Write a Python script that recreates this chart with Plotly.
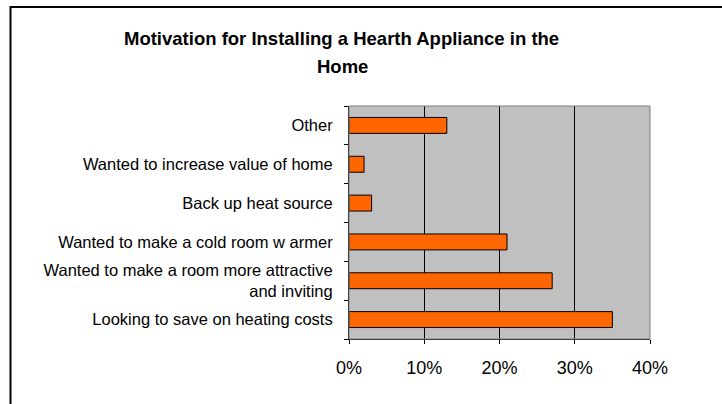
import plotly.graph_objects as go

categories = [
    "Looking to save on heating costs",
    "Wanted to make a room more attractive<br>and inviting",
    "Wanted to make a cold room w armer",
    "Back up heat source",
    "Wanted to increase value of home",
    "Other",
]
values = [35, 27, 21, 3, 2, 13]
x_ticks = [0, 10, 20, 30, 40]
x_tick_labels = ["0%", "10%", "20%", "30%", "40%"]
title_lines = ["Motivation for Installing a Hearth Appliance in the", "Home"]

W, H = 722, 404
L, R, T, B = 349, 72, 106, 65
pw, ph = W - L - R, H - T - B

def px_x(px):
    return (px - L) / pw

def px_y(py):
    return (H - B - py) / ph

fig = go.Figure(go.Bar(
    x=values, y=categories, orientation="h",
    marker=dict(color="#FF6600", line=dict(color="black", width=1)),
    width=0.41, hoverinfo="skip",
))

font = "Liberation Sans, Arial, sans-serif"

fig.update_layout(
    width=W, height=H,
    margin=dict(l=L, r=R, t=T, b=B, autoexpand=False),
    paper_bgcolor="white", plot_bgcolor="#C0C0C0",
    showlegend=False,
    font=dict(family=font, color="black"),
    xaxis=dict(
        range=[0, 40], tickvals=x_ticks, ticktext=x_tick_labels,
        showgrid=True, gridcolor="black", gridwidth=1,
        ticks="outside", ticklen=4, tickcolor="black",
        showline=True, linecolor="black", linewidth=1,
        tickfont=dict(size=18, family=font, color="black"),
        ticklabelstandoff=8,
        zeroline=False, fixedrange=True,
    ),
    yaxis=dict(
        categoryorder="array", categoryarray=categories,
        ticks="outside", ticklen=4, tickcolor="black", tickson="boundaries",
        showline=True, linecolor="black", linewidth=1,
        tickfont=dict(size=16.5, family=font, color="black"),
        ticklabelstandoff=12,
        showgrid=False, zeroline=False, fixedrange=True,
    ),
    shapes=[
        dict(type="rect", xref="paper", yref="paper", x0=0, x1=1, y0=0, y1=1,
             line=dict(color="#808080", width=1), layer="above"),
        dict(type="rect", xref="paper", yref="paper",
             x0=px_x(10.5), x1=px_x(740), y0=px_y(7), y1=px_y(420),
             line=dict(color="black", width=2)),
    ],
    annotations=[
        dict(text="<b>%s</b>" % title_lines[0], xref="paper", yref="paper",
             x=px_x(341), y=px_y(38), xanchor="center", yanchor="middle",
             showarrow=False, font=dict(size=18.5, family=font, color="black")),
        dict(text="<b>%s</b>" % title_lines[1], xref="paper", yref="paper",
             x=px_x(342), y=px_y(66), xanchor="center", yanchor="middle",
             showarrow=False, font=dict(size=18.5, family=font, color="black")),
    ],
)

fig.write_html("out.html", config={"displayModeBar": False},
               post_script="document.body.style.margin='0';")
